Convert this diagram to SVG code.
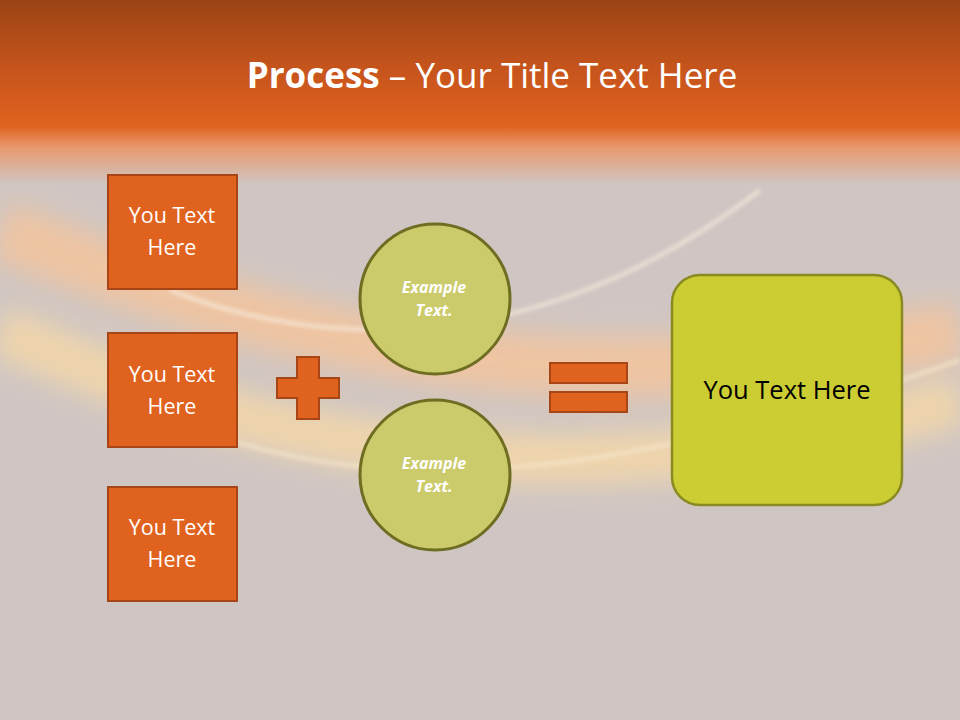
<svg xmlns="http://www.w3.org/2000/svg" width="960" height="720" viewBox="0 0 960 720">
<defs>
<linearGradient id="hdr" x1="0" y1="0" x2="0" y2="1">
<stop offset="0" stop-color="#9a4314"/>
<stop offset="0.35" stop-color="#c4531c"/>
<stop offset="0.68" stop-color="#e0621f"/>
<stop offset="0.8" stop-color="#e89a70"/>
<stop offset="1" stop-color="#cfc6c3"/>
</linearGradient>
<filter id="blur" x="-20%" y="-50%" width="140%" height="200%"><feGaussianBlur stdDeviation="14"/></filter>
<filter id="blur2" x="-20%" y="-50%" width="140%" height="200%"><feGaussianBlur stdDeviation="2"/></filter>
<style>
.box{fill:#e0621f;stroke:#a84516;stroke-width:2}
.bt{font-family:"Open Sans","Liberation Sans",sans-serif;font-size:21.5px;fill:#fff;text-anchor:middle}
.circ{fill:#cccb6b;stroke:#6e6d22;stroke-width:3}
.ct{font-family:"Open Sans","Liberation Sans",sans-serif;font-size:16px;font-weight:bold;font-style:italic;fill:#fff;text-anchor:middle}
.op{fill:#e0621f;stroke:#a84516;stroke-width:2}
</style>
</defs>
<rect width="960" height="720" fill="#cfc6c3"/>
<g opacity="0.8">
<path d="M0,230 C250,330 550,420 960,330" fill="none" stroke="#f7c49a" stroke-width="60" filter="url(#blur)"/>
<path d="M0,330 C300,470 620,500 960,400" fill="none" stroke="#f8d9a6" stroke-width="50" filter="url(#blur)"/>
<path d="M170,290 C320,350 540,360 760,190" fill="none" stroke="#fff3e0" stroke-width="3" filter="url(#blur2)"/>
<path d="M230,440 C420,500 650,470 960,360" fill="none" stroke="#ffeccc" stroke-width="3" filter="url(#blur2)"/>
</g>
<rect width="960" height="185" fill="url(#hdr)"/>
<text x="492" y="88" font-family="'Open Sans','Liberation Sans',sans-serif" font-size="35" fill="#fff" text-anchor="middle"><tspan font-weight="bold">Process</tspan> – Your Title Text Here</text>
<g id="box1"><rect class="box" x="108" y="175" width="129" height="114"/><text class="bt" x="172" y="223">You Text</text><text class="bt" x="172" y="255">Here</text></g>
<g id="box2"><rect class="box" x="108" y="333" width="129" height="114"/><text class="bt" x="172" y="382">You Text</text><text class="bt" x="172" y="414">Here</text></g>
<g id="box3"><rect class="box" x="108" y="487" width="129" height="114"/><text class="bt" x="172" y="535">You Text</text><text class="bt" x="172" y="567">Here</text></g>
<g id="plus"><path class="op" d="M297,357 H319 V378 H339 V398 H319 V419 H297 V398 H277 V378 H297 Z"/></g>
<g id="circle1"><circle class="circ" cx="435" cy="299" r="75"/><text class="ct" x="434" y="293">Example</text><text class="ct" x="434" y="316">Text.</text></g>
<g id="circle2"><circle class="circ" cx="435" cy="475" r="75"/><text class="ct" x="434" y="469">Example</text><text class="ct" x="434" y="492">Text.</text></g>
<g id="equals"><rect class="op" x="550" y="363" width="77" height="20"/><rect class="op" x="550" y="392" width="77" height="20"/></g>
<g id="result"><rect x="672" y="275" width="230" height="230" rx="28" fill="#cccd33" stroke="#8a8a22" stroke-width="2.5"/><text x="787" y="399" font-family="'Open Sans','Liberation Sans',sans-serif" font-size="25.5" fill="#000" text-anchor="middle">You Text Here</text></g>
<g id="connectors"/>
</svg>
